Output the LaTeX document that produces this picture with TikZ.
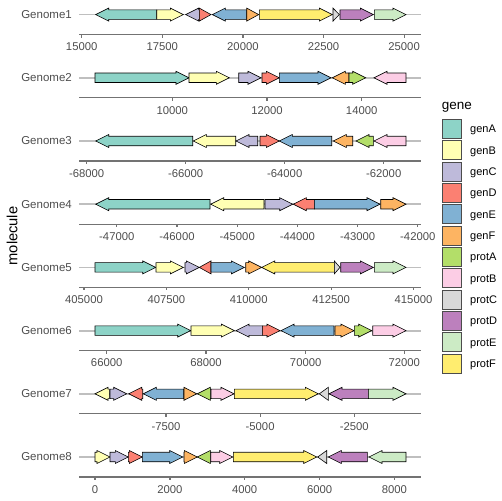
\documentclass[tikz,border=0pt]{standalone}
\usepackage{fontspec}
\setmainfont{Liberation Sans}
\usepackage{tikz}
\usepackage{xcolor}
\usetikzlibrary{positioning}

\definecolor{genA}{HTML}{8DD3C7}
\definecolor{genB}{HTML}{FFFFB3}
\definecolor{genC}{HTML}{BEBADA}
\definecolor{genD}{HTML}{FB8072}
\definecolor{genE}{HTML}{80B1D3}
\definecolor{genF}{HTML}{FDB462}
\definecolor{protA}{HTML}{B3DE69}
\definecolor{protB}{HTML}{FCCDE5}
\definecolor{protC}{HTML}{D9D9D9}
\definecolor{protD}{HTML}{BC80BD}
\definecolor{protE}{HTML}{CCEBC5}
\definecolor{protF}{HTML}{FFED6F}
\definecolor{labelgrey}{HTML}{4D4D4D}

\def\headlen{13}
\def\headh{6.5}
\def\bodyh{4.75}
% row y, tail x, tip x, fill
\newcommand{\genearrow}[4]{%
  \pgfmathsetmacro{\glen}{#3-(#2)}%
  \pgfmathsetmacro{\gneck}{#3-sign(\glen)*min(abs(\glen),\headlen)}%
  \filldraw[gene, fill=#4] (#2,#1-\bodyh) -- (\gneck,#1-\bodyh) -- (\gneck,#1-\headh) -- (#3,#1)
    -- (\gneck,#1+\headh) -- (\gneck,#1+\bodyh) -- (#2,#1+\bodyh) -- cycle;}

\begin{document}
\begin{tikzpicture}[x=1pt, y=-1pt,
  gene/.style={draw=black, line width=0.6pt, line join=miter},
  track/.style={draw=black!25, line width=1.8pt},
  axis/.style={draw=black!55, line width=1.2pt},
  rowlabel/.style={anchor=east, inner sep=0pt, text=labelgrey, font=\fontsize{11.5}{13}\selectfont},
  ticklabel/.style={inner sep=0pt, text=labelgrey, font=\fontsize{11.3}{13}\selectfont},
  legendkey/.style={draw=black!70, line width=0.8pt},
  legendtext/.style={anchor=base west, inner sep=0pt, font=\fontsize{11}{13}\selectfont}]

\useasboundingbox (0,0) rectangle (502,500);

\foreach \y [count=\i] in {14.6, 77.8, 141, 204.2, 267.4, 330.6, 393.8, 457} {
  \node[rowlabel] (row\i) at (72,\y) {Genome\i};
  \draw[track] (79,\y) -- (421,\y);
  \draw[axis] (79,\y+20) -- (421,\y+20);
}

\node[rotate=90, inner sep=0pt, font=\fontsize{14.7}{16}\selectfont] (ytitle) at (12,236) {molecule};

\foreach \x/\t in {81.7/15000, 162.3/17500, 242.9/20000, 323.5/22500, 404.1/25000} {
  \draw[axis] (\x,34.6) -- (\x,37.6);
  \node[ticklabel] (tick1-\t) at (\x,47.1) {\t};
}
\foreach \x/\t in {172.3/10000, 267/12000, 361.7/14000} {
  \draw[axis] (\x,97.8) -- (\x,100.8);
  \node[ticklabel] (tick2-\t) at (\x,110.3) {\t};
}
\foreach \x/\t in {86.6/-68000, 185.6/-66000, 284.7/-64000, 383.7/-62000} {
  \draw[axis] (\x,161) -- (\x,164);
  \node[ticklabel] (tick3\t) at (\x,173.5) {\t};
}
\foreach \x/\t in {116.8/-47000, 177/-46000, 237.2/-45000, 297.4/-44000, 357.6/-43000, 417.8/-42000} {
  \draw[axis] (\x,224.2) -- (\x,227.2);
  \node[ticklabel] (tick4\t) at (\x,236.7) {\t};
}
\foreach \x/\t in {84/405000, 166.4/407500, 248.7/410000, 331.1/412500, 413.5/415000} {
  \draw[axis] (\x,287.4) -- (\x,290.4);
  \node[ticklabel] (tick5-\t) at (\x,299.9) {\t};
}
\foreach \x/\t in {106.7/66000, 206/68000, 305.7/70000, 404.3/72000} {
  \draw[axis] (\x,350.6) -- (\x,353.6);
  \node[ticklabel] (tick6-\t) at (\x,363.1) {\t};
}
\foreach \x/\t in {166/-7500, 260.1/-5000, 354.3/-2500} {
  \draw[axis] (\x,413.8) -- (\x,416.8);
  \node[ticklabel] (tick7\t) at (\x,426.3) {\t};
}
\foreach \x/\t in {95/0, 169.9/2000, 244.7/4000, 319.6/6000, 394.4/8000} {
  \draw[axis] (\x,477) -- (\x,480);
  \node[ticklabel] (tick8-\t) at (\x,489.5) {\t};
}

\foreach \s/\e/\col in {156.7/95.7/genA, 156.7/183.3/genB, 199.3/185.7/genC, 199.3/211/genD,
    246.7/212.3/genE, 246.7/258.7/genF, 259.3/332.3/protF, 333/339.3/protC, 340/373.3/protD, 374.3/406/protE}
  {\genearrow{14.6}{\s}{\e}{\col}}
\foreach \s/\e/\col in {95/189/genA, 189/229.3/genB, 238.7/261/genC, 262/279.3/genD,
    279.3/331/genE, 349/332.3/genF, 349/365.7/protA, 406/374/protB}
  {\genearrow{77.8}{\s}{\e}{\col}}
\foreach \s/\e/\col in {192.7/95.7/genA, 235.7/193.3/genB, 257.7/236/genC, 260/279.3/genD,
    331.7/279.3/genE, 352.7/333.3/genF, 373.3/356/protA, 406/374/protB}
  {\genearrow{141}{\s}{\e}{\col}}
\foreach \s/\e/\col in {210/95.7/genA, 264/210.7/genB, 265/292.7/genC, 314.3/293.3/genD,
    314.3/380/genE, 380.7/406/genF}
  {\genearrow{204.2}{\s}{\e}{\col}}
\foreach \s/\e/\col in {95/155.7/genA, 156/183.3/genB, 185/199.3/genC, 211/199.3/genD,
    211/244.3/genE, 245.7/261.7/genF, 334.3/261.7/protF, 334.3/340/protC, 340.7/373.3/protD, 374.3/406/protE}
  {\genearrow{267.4}{\s}{\e}{\col}}
\foreach \s/\e/\col in {95/190.7/genA, 191/234.3/genB, 262.3/236/genC, 262.3/280/genD,
    334/281/genE, 335/354/genF, 354.3/371.7/protA, 372.7/406/protB}
  {\genearrow{330.6}{\s}{\e}{\col}}
\foreach \s/\e/\col in {109.3/95/genB, 110/126.7/genC, 142.7/128.7/genD, 183.7/143.3/genE,
    184/196.7/genF, 210.7/197.3/protA, 211/234/protB, 234.3/318.3/protF, 328.3/319.3/protC, 368.3/329/protD, 368.3/406/protE}
  {\genearrow{393.8}{\s}{\e}{\col}}
\foreach \s/\e/\col in {95/110/genB, 110/128.3/genC, 128.3/142.3/genD, 142.3/182.7/genE,
    184/197.3/genF, 210.7/197.3/protA, 210.7/232.7/protB, 233.3/316.7/protF, 326.7/317.7/protC, 367.3/328.3/protD, 406/369/protE}
  {\genearrow{457}{\s}{\e}{\col}}

\node[anchor=base west, inner sep=0pt, font=\fontsize{13.5}{15}\selectfont] (legtitle) at (441.7,109.5) {gene};
\foreach \g [count=\k from 0] in {genA, genB, genC, genD, genE, genF, protA, protB, protC, protD, protE, protF} {
  \filldraw[legendkey, fill=\g] (442.7,119.3+21.33*\k) rectangle ++(19,19);
  \node[legendtext] (key-\g) at (470,132.8+21.33*\k) {\g};
}

\end{tikzpicture}
\end{document}
